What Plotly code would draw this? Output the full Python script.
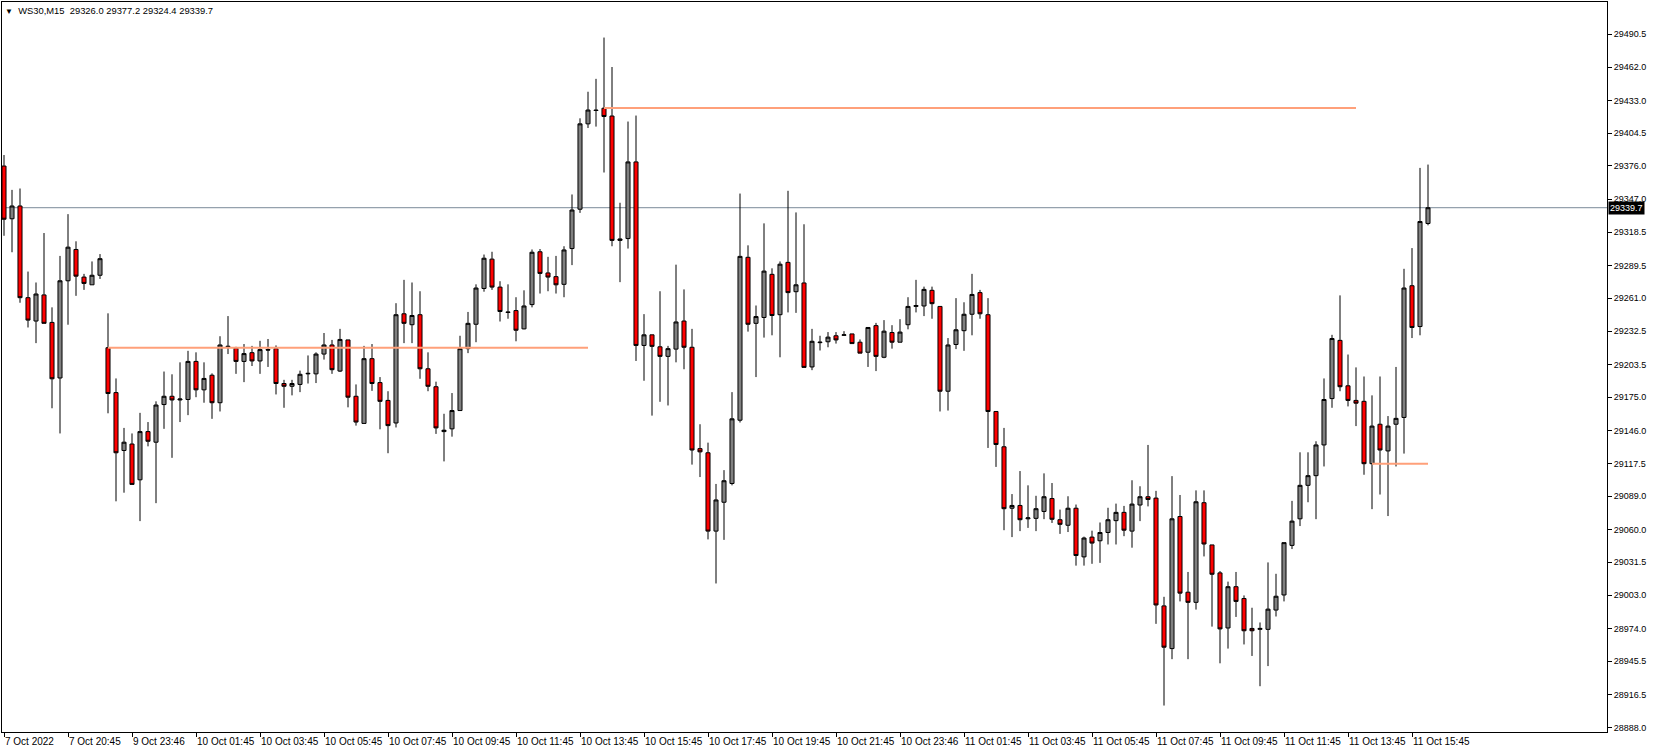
import plotly.graph_objects as go

# ---------------- data (WS30, M15) ----------------
opens = [29375.9, 29330.1, 29341.2, 29261.5, 29241.2, 29263.9, 29240.0, 29191.7, 29276.2, 29303.4,
         29279.4, 29272.7, 29281.0, 29218.0, 29179.0, 29128.7, 29134.3, 29103.2, 29145.1, 29135.9,
         29168.6, 29175.8, 29172.6, 29173.0, 29206.1, 29181.4, 29194.1, 29170.2, 29218.8, 29217.6,
         29206.1, 29213.7, 29206.5, 29216.4, 29217.2, 29186.9, 29184.5, 29186.1, 29195.3, 29195.3,
         29212.5, 29220.4, 29197.7, 29224.8, 29175.8, 29152.2, 29208.5, 29187.7, 29172.2, 29152.6,
         29247.5, 29238.0, 29246.7, 29199.7, 29184.1, 29145.1, 29147.5, 29163.4, 29217.2, 29238.4,
         29269.5, 29295.0, 29270.7, 29249.1, 29250.3, 29234.4, 29255.5, 29301.4, 29283.0, 29279.8,
         29273.1, 29304.2, 29338.4, 29412.6, 29424.6, 29426.2, 29419.4, 29311.3, 29312.9, 29379.5,
         29220.0, 29229.2, 29218.8, 29210.5, 29216.8, 29241.2, 29218.4, 29130.3, 29126.7, 29058.6,
         29083.7, 29100.0, 29155.0, 29296.6, 29239.2, 29244.3, 29281.8, 29246.7, 29292.2, 29266.7,
         29274.3, 29201.3, 29222.4, 29223.2, 29228.4, 29228.8, 29230.0, 29222.8, 29214.1, 29237.2,
         29209.7, 29231.2, 29222.8, 29238.0, 29253.9, 29254.3, 29267.9, 29253.9, 29180.2, 29220.8,
         29232.8, 29247.1, 29265.9, 29246.7, 29162.6, 29131.9, 29078.5, 29080.9, 29069.3, 29069.7,
         29075.7, 29086.9, 29068.5, 29063.7, 29078.5, 29036.2, 29053.4, 29050.2, 29057.4, 29067.7,
         29074.9, 29058.6, 29081.3, 29088.5, 29087.3, 28993.6, 28956.5, 29071.3, 29005.5, 28996.7,
         29083.3, 29046.6, 29022.3, 28974.4, 29010.3, 29000.0, 28974.0, 28973.2, 28973.2, 28990.0,
         29003.1, 29046.2, 29069.3, 29098.4, 29106.8, 29133.5, 29173.8, 29224.4, 29184.9, 29172.2,
         29171.4, 29117.2, 29151.5, 29128.3, 29151.5, 29157.4, 29271.9, 29236.4, 29326.0]
highs = [29385.5, 29355.2, 29356.4, 29284.2, 29274.7, 29317.7, 29253.1, 29297.8, 29334.1, 29310.5,
         29282.2, 29293.0, 29299.4, 29247.9, 29191.3, 29148.3, 29143.5, 29161.4, 29153.4, 29171.4,
         29197.3, 29194.9, 29205.3, 29215.3, 29214.0, 29205.3, 29195.7, 29228.0, 29245.5, 29218.8,
         29221.2, 29219.6, 29224.0, 29225.6, 29220.0, 29190.1, 29190.1, 29198.1, 29211.3, 29214.0,
         29230.8, 29224.8, 29234.4, 29224.8, 29186.1, 29219.6, 29221.2, 29192.5, 29180.2, 29256.7,
         29277.0, 29274.7, 29267.1, 29214.0, 29188.5, 29160.6, 29178.6, 29228.4, 29249.1, 29273.1,
         29299.0, 29301.4, 29275.8, 29273.1, 29261.9, 29267.9, 29303.4, 29303.8, 29297.0, 29297.8,
         29306.2, 29351.2, 29417.4, 29440.5, 29451.7, 29487.6, 29462.0, 29344.0, 29414.6, 29419.8,
         29247.2, 29229.2, 29267.1, 29219.6, 29290.2, 29268.7, 29234.4, 29151.5, 29135.5, 29099.6,
         29111.6, 29179.4, 29352.0, 29307.0, 29254.7, 29326.1, 29287.0, 29293.0, 29354.4, 29335.6,
         29325.3, 29234.4, 29228.4, 29231.6, 29231.6, 29232.4, 29230.0, 29225.2, 29236.0, 29239.6,
         29242.0, 29237.6, 29242.8, 29261.9, 29277.0, 29271.1, 29271.1, 29253.9, 29226.4, 29261.1,
         29257.5, 29282.2, 29268.3, 29261.1, 29162.6, 29148.3, 29090.8, 29110.8, 29098.4, 29089.3,
         29108.8, 29100.4, 29077.3, 29088.9, 29081.7, 29053.8, 29059.0, 29066.1, 29078.9, 29082.5,
         29080.5, 29102.8, 29097.6, 29133.5, 29093.6, 29001.5, 29106.4, 29090.0, 29023.1, 29094.0,
         29094.0, 29046.6, 29023.9, 29014.7, 29023.1, 29002.7, 28992.0, 28979.2, 29031.4, 29021.5,
         29048.6, 29084.9, 29127.1, 29127.1, 29136.7, 29191.3, 29229.2, 29263.5, 29212.1, 29200.9,
         29193.0, 29176.6, 29193.0, 29158.6, 29201.3, 29286.6, 29304.6, 29374.3, 29377.2]
lows = [29315.3, 29301.0, 29257.1, 29235.6, 29222.0, 29239.2, 29165.4, 29143.5, 29238.0, 29263.1,
        29268.3, 29272.7, 29277.8, 29161.0, 29084.5, 29092.0, 29099.2, 29067.3, 29132.3, 29082.9,
        29147.5, 29122.3, 29153.4, 29159.4, 29175.0, 29170.2, 29156.2, 29162.6, 29212.5, 29195.3,
        29188.1, 29202.1, 29195.3, 29201.3, 29177.4, 29165.8, 29176.6, 29179.4, 29186.9, 29187.3,
        29207.7, 29195.3, 29196.9, 29166.2, 29150.3, 29152.2, 29180.5, 29147.1, 29126.3, 29148.7,
        29222.0, 29222.0, 29191.0, 29180.2, 29143.1, 29119.2, 29140.7, 29163.4, 29213.3, 29222.8,
        29266.7, 29268.3, 29240.8, 29243.2, 29223.6, 29234.0, 29253.1, 29265.1, 29267.1, 29265.1,
        29261.9, 29289.8, 29335.2, 29409.0, 29410.2, 29370.3, 29306.2, 29275.0, 29304.2, 29206.5,
        29189.3, 29159.0, 29171.0, 29167.8, 29205.3, 29199.3, 29116.4, 29105.6, 29051.4, 29013.1,
        29051.0, 29098.4, 29153.0, 29232.0, 29192.5, 29226.8, 29228.8, 29209.7, 29248.7, 29248.3,
        29200.9, 29198.5, 29215.6, 29218.4, 29221.6, 29228.4, 29221.6, 29213.3, 29201.3, 29197.7,
        29208.9, 29217.2, 29222.8, 29234.0, 29248.7, 29245.5, 29243.2, 29162.6, 29163.4, 29216.8,
        29215.3, 29228.8, 29243.2, 29130.9, 29114.4, 29059.4, 29053.4, 29058.6, 29061.4, 29058.6,
        29069.0, 29065.7, 29056.2, 29057.8, 29028.6, 29028.6, 29030.2, 29031.0, 29047.0, 29047.0,
        29054.2, 29044.2, 29067.3, 29080.1, 28978.0, 28907.0, 28947.3, 28997.5, 28947.3, 28990.4,
        29036.6, 28975.6, 28943.7, 28956.5, 28984.0, 28960.1, 28950.1, 28923.8, 28941.3, 28984.4,
        28997.5, 29043.0, 29063.0, 29083.7, 29069.0, 29114.8, 29165.8, 29180.2, 29167.0, 29149.9,
        29107.6, 29077.7, 29090.4, 29071.7, 29114.8, 29126.0, 29226.4, 29228.8, 29324.4]
closes = [29329.7, 29341.2, 29261.5, 29242.0, 29264.7, 29239.2, 29191.0, 29276.2, 29305.4, 29280.2,
          29273.9, 29281.0, 29295.4, 29178.2, 29126.7, 29135.9, 29099.2, 29145.1, 29136.7, 29168.2,
          29175.8, 29172.6, 29173.4, 29206.1, 29181.4, 29191.3, 29170.2, 29220.4, 29219.2, 29206.1,
          29212.9, 29206.5, 29216.4, 29216.0, 29186.9, 29184.5, 29186.9, 29194.9, 29195.7, 29212.5,
          29220.4, 29198.9, 29225.2, 29175.0, 29153.4, 29208.5, 29186.9, 29171.4, 29150.3, 29246.7,
          29239.2, 29246.0, 29199.7, 29184.5, 29148.3, 29146.3, 29163.4, 29217.2, 29239.2, 29269.9,
          29295.8, 29270.7, 29249.5, 29248.7, 29233.2, 29254.3, 29301.0, 29282.6, 29279.4, 29272.7,
          29303.0, 29337.7, 29412.6, 29424.6, 29424.2, 29419.0, 29311.3, 29312.5, 29379.5, 29220.0,
          29229.2, 29219.2, 29210.5, 29217.2, 29240.4, 29218.4, 29129.1, 29127.5, 29058.6, 29085.7,
          29102.4, 29156.2, 29297.4, 29238.4, 29245.1, 29284.6, 29246.0, 29290.6, 29265.9, 29272.7,
          29200.9, 29223.6, 29222.8, 29227.2, 29224.8, 29229.2, 29221.6, 29213.3, 29235.6, 29210.5,
          29232.4, 29222.8, 29231.6, 29253.9, 29254.7, 29268.7, 29256.3, 29180.2, 29220.4, 29233.6,
          29247.1, 29264.3, 29247.5, 29162.6, 29133.9, 29078.1, 29080.9, 29068.5, 29070.1, 29078.1,
          29088.5, 29068.9, 29064.5, 29078.5, 29037.4, 29052.6, 29048.2, 29057.4, 29068.5, 29074.9,
          29059.4, 29082.1, 29088.5, 29086.1, 28994.4, 28957.7, 29069.3, 29004.7, 28996.7, 29084.1,
          29047.4, 29021.1, 28973.6, 29010.3, 28997.5, 28972.0, 28972.0, 28974.0, 28990.8, 29002.0,
          29048.6, 29067.3, 29098.4, 29106.8, 29133.5, 29173.0, 29226.0, 29184.1, 29172.2, 29169.8,
          29117.2, 29149.9, 29129.1, 29149.9, 29156.6, 29269.9, 29235.6, 29327.7, 29339.7]

time_tick_bars = [0, 8, 16, 24, 32, 40, 48, 56, 64, 72, 80, 88, 96, 104, 112, 120, 128, 136, 144, 152, 160, 168, 176]
time_tick_labels = ["7 Oct 2022", "7 Oct 20:45", "9 Oct 23:46", "10 Oct 01:45", "10 Oct 03:45",
                    "10 Oct 05:45", "10 Oct 07:45", "10 Oct 09:45", "10 Oct 11:45", "10 Oct 13:45",
                    "10 Oct 15:45", "10 Oct 17:45", "10 Oct 19:45", "10 Oct 21:45", "10 Oct 23:46",
                    "11 Oct 01:45", "11 Oct 03:45", "11 Oct 05:45", "11 Oct 07:45", "11 Oct 09:45",
                    "11 Oct 11:45", "11 Oct 13:45", "11 Oct 15:45"]
price_ticks = [29490.5, 29462.0, 29433.0, 29404.5, 29376.0, 29347.0, 29318.5, 29289.5, 29261.0,
               29232.5, 29203.5, 29175.0, 29146.0, 29117.5, 29089.0, 29060.0, 29031.5, 29003.0,
               28974.0, 28945.5, 28916.5, 28888.0]

# horizontal levels: price, first bar, last bar
level_prices = [29218.0, 29426.4, 29117.2]
level_start = [13, 75, 171]
level_end = [73, 169, 178]

symbol = "WS30,M15"
last_price = closes[-1]

FONT = "Liberation Sans, Arial, sans-serif"
bars = list(range(len(opens)))

fig = go.Figure()
fig.add_trace(go.Candlestick(
    x=bars, open=opens, high=highs, low=lows, close=closes,
    increasing=dict(line=dict(color="black", width=1), fillcolor="#808080"),
    decreasing=dict(line=dict(color="black", width=1), fillcolor="#ff0000"),
    whiskerwidth=0, showlegend=False, hoverinfo="skip",
))

# bid line
fig.add_shape(type="line", xref="paper", x0=0, x1=1, yref="y", y0=last_price, y1=last_price,
              line=dict(color="#7a8a99", width=1), layer="below")
# levels
for p, a, b in zip(level_prices, level_start, level_end):
    fig.add_shape(type="line", xref="x", yref="y", x0=a, x1=b, y0=p, y1=p,
                  line=dict(color="#ffa07a", width=2))

# header
fig.add_annotation(xref="paper", yref="paper", x=0, y=1, xanchor="left", yanchor="top",
                   xshift=1, yshift=-1, showarrow=False, align="left",
                   text="<span style='font-size:8px'>▼</span>  " + symbol + "  "
                        + " ".join(f"{v:.1f}" for v in (opens[-1], highs[-1], lows[-1], closes[-1])),
                   font=dict(family=FONT, size=9.4, color="#000000"))
# price label
fig.add_annotation(xref="paper", yref="y", x=1, y=last_price, xanchor="left", yanchor="middle",
                   xshift=1, showarrow=False, text=f"{last_price:.1f}", bgcolor="#000000",
                   borderpad=1, font=dict(family=FONT, size=9, color="#ffffff"))

fig.update_layout(
    width=1653, height=753,
    margin=dict(l=2, r=46, t=2, b=21, pad=0, autoexpand=False),
    plot_bgcolor="white", paper_bgcolor="white",
    boxgap=0.3, boxgroupgap=0.28,
    showlegend=False,
    xaxis=dict(range=[-0.25, 200.375], tickmode="array", tickvals=time_tick_bars, ticktext=time_tick_labels,
               ticks="outside", ticklen=4, tickcolor="black", ticklabelposition="outside right",
               tickangle=0, automargin=False,
               showline=True, mirror=True, linecolor="black", linewidth=1,
               showgrid=False, zeroline=False, rangeslider=dict(visible=False),
               tickfont=dict(family=FONT, size=10, color="black")),
    yaxis=dict(range=[28884.0, 29518.5], side="right", tickmode="array", tickvals=price_ticks,
               ticktext=[f"{v:.1f}" for v in price_ticks], automargin=False,
               ticks="outside", ticklen=4, tickcolor="black",
               showline=True, mirror=True, linecolor="black", linewidth=1,
               showgrid=False, zeroline=False,
               tickfont=dict(family=FONT, size=9, color="black")),
)

fig.write_html("out.html", config={"displayModeBar": False},
               post_script="document.body.style.margin='0';document.body.style.overflow='hidden';")
